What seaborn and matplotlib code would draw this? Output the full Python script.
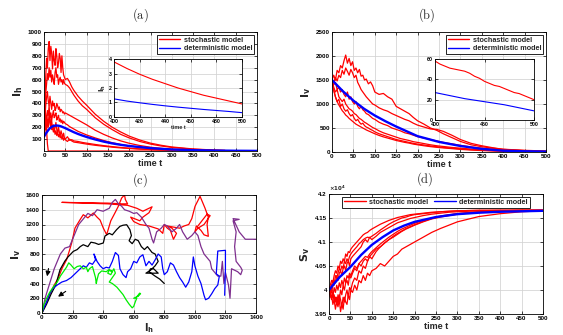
import matplotlib
matplotlib.use('Agg')
import matplotlib.pyplot as plt
import seaborn as sns
from matplotlib.ticker import FuncFormatter
from matplotlib.lines import Line2D

# ---------------- data: panel (a) I_h ----------------
T_A = [0,2,4,6,8,10,12,14,16,18,20,22,24,26,28,30,32,34,36,38,40,42,44,46,48,50,
       55,60,65,70,80,90,100,120,140,160,180,200,225,250,275,300,350,400,425]
A1 = [120,380,620,780,700,860,920,760,880,820,690,840,760,720,860,800,700,740,820,780,660,800,700,640,620,600,
      610,580,540,510,460,420,385,310,250,200,160,125,92,66,48,34,17,8,5]
A2 = [120,300,480,560,650,600,700,620,680,580,640,600,560,660,700,620,640,560,600,620,580,600,560,600,570,560,
      550,530,500,470,420,380,350,280,225,180,140,110,80,58,42,30,15,7,4]
A3 = [120,260,380,450,500,420,380,460,400,350,420,380,400,340,360,400,380,350,370,330,350,340,320,330,310,320,
      310,300,290,280,260,240,220,175,140,110,85,65,46,32,22,15,7,3,2]
A4 = [120,200,300,260,340,300,380,280,320,260,300,340,280,300,320,260,280,300,250,270,240,260,230,250,240,230,
      220,205,195,185,165,150,135,110,88,70,55,43,31,22,15,10,5,2,1]
A5 = [120,240,180,300,260,220,320,240,200,260,180,220,160,200,240,180,150,200,160,130,170,140,120,150,110,100,
      120,90,95,85,80,72,66,55,45,37,30,24,18,13,9,7,3,1,1]
A6 = [120,160,220,180,260,200,240,280,220,180,200,160,190,140,170,130,160,120,140,110,130,100,120,90,110,95,
      80,100,85,75,70,64,58,48,40,32,26,21,16,12,8,6,3,1,1]
T_A7 = [0,2,4,6,8,10,12,425]
A7 = [120,250,320,180,60,0,0,0]
T_AD = [0,5,10,15,20,25,30,35,40,50,60,70,80,90,100,120,140,160,180,200,250,300,350,400,450,500]
AD = [120,150,175,195,207,213,214,212,207,192,175,158,143,130,118,97,79,64,52,42,24,13,7,4,2,1]
T_AI = [400,410,420,430,440,450,460,470,480,490,500]
AI_STO = [3.8,3.35,2.95,2.6,2.3,2.0,1.75,1.5,1.3,1.1,0.9]
AI_DET = [1.25,1.1,0.98,0.87,0.77,0.68,0.6,0.52,0.45,0.38,0.3]

# ---------------- data: panel (b) I_v ----------------
T_B = [0,4,8,12,16,20,24,28,32,36,40,44,48,52,56,60,64,68,72,76,80,85,90,95,100,
       110,120,130,140,150,160,170,180,190,200,215,230,245,260,280,300,325,350,375,400,450,500]
B1 = [1500,1600,1500,1700,1650,1800,1750,1900,2020,1850,1950,1800,1880,1700,1750,1650,1720,1580,1600,1500,1520,1420,1460,1380,
      1250,1200,1220,1150,1100,950,900,850,800,720,650,580,500,450,380,300,220,150,110,80,58,35,20]
B2 = [1500,1450,1550,1480,1600,1550,1700,1620,1750,1680,1600,1720,1650,1550,1600,1450,1380,1300,1250,1200,1150,1100,1050,1000,
      980,920,880,850,800,760,720,680,650,600,560,520,480,470,430,350,260,180,130,90,55,30,15]
B3 = [1500,1400,1450,1300,1350,1250,1300,1200,1150,1250,1100,1150,1050,1000,1050,950,900,950,880,850,800,780,740,700,
      680,620,580,550,500,470,440,400,380,350,320,290,260,230,200,170,140,105,80,60,45,25,12]
B4 = [1500,1350,1250,1300,1150,1100,1050,1100,1000,950,900,880,850,800,780,740,700,680,650,620,600,570,540,510,
      490,440,400,370,340,310,280,260,240,215,200,175,150,130,115,95,80,60,45,33,24,13,7]
B5 = [1500,1300,1150,1050,1100,950,1000,900,850,880,800,750,780,700,650,680,620,580,600,550,520,500,470,450,
      420,380,350,320,290,260,240,220,200,180,165,145,125,110,95,80,65,50,38,28,20,11,6]
B6 = [1500,1280,1150,1050,980,920,860,820,770,740,700,670,640,610,580,560,540,520,500,480,460,440,420,400,
      380,345,315,290,265,240,220,200,185,165,150,130,112,97,85,70,55,40,30,22,16,9,5]
T_BD = [0,25,50,75,100,125,150,175,200,250,300,350,400,450,500]
BD = [1500,1270,1070,900,760,640,530,430,330,210,125,65,27,15,9]
T_BI = [400,405,410,415,420,425,430,435,440,445,450,455,460,465,470,475,480,485,490,495,500]
BI_STO = [58,55,53,51,50,49,48,46,43,41,38,36,34,33,31,29,27,26,24,22,20]
T_BID = [400,410,420,430,440,450,460,470,480,490,500]
BI_DET = [27,25,23,21,19.5,18,16.5,15,13,11,9]

# ---------------- data: panel (c) I_h vs I_v ----------------
RED_H = [0,20,50,80,107,130,161,180,194,216,249,270,300,336,360,380,401,423,450,477,499,521,540,545,560,520,430,130,430,560,
         620,660,720,700,660,640,580,600,640,700,760,790,800,820,840,860,880,850,820,900,930,960,980,1001,1034,1066,1088,
         1080,1088,1060,1040,1010,1000,1020,1060,1100,1080,1050,1020]
RED_V = [0,100,250,380,474,600,723,850,949,1152,1265,1333,1290,1356,1300,1260,1152,1062,1250,1356,1446,1559,1600,1540,1480,1480,
         1490,1500,1480,1460,1420,1380,1440,1360,1300,1250,1300,1240,1200,1180,1140,1080,1200,1150,1120,1000,1080,1150,1180,
         1150,1180,1200,1280,1446,1582,1424,1300,1200,1040,1060,1120,1180,1100,1150,1200,1320,1340,1260,1180]
PURPLE_H = [0,20,50,80,100,120,150,180,200,220,240,260,280,300,330,360,400,440,460,480,500,520,540,570,600,620,650,680,700,720,
            730,750,780,800,820,850,880,900,920,950,980,1000,1020,1040,1060,1080,1100,1110,1130,1150,1170,1180,1190,1200,1220,
            1230,1240,1280,1300,1310,1300,1270,1260,1270,1250,1290,1250,1290,1330,1400]
PURPLE_V = [0,200,400,600,700,800,880,900,1000,1100,1200,1250,1300,1350,1320,1400,1380,1420,1500,1540,1480,1450,1400,1380,1350,
            1360,1300,1200,1150,1000,950,1100,1150,1200,1180,1100,1150,1200,1100,1000,1050,1100,1050,900,800,750,700,600,550,500,
            500,700,400,550,380,200,600,560,520,580,620,700,900,1100,1250,1270,1280,1100,1000,1000]
BLACK_H = [0,30,60,90,118,135,150,170,205,230,250,270,300,320,347,370,401,412,440,460,488,510,530,554,575,585,570,590,610,630,
           650,670,690,720,740,760,740,710,680,720,760,730,710,700,740,770,800]
BLACK_V = [0,120,260,380,587,650,705,760,836,860,900,926,900,960,949,930,949,1044,1080,1060,1130,1175,1190,1197,1130,1050,980,
           940,1000,980,900,860,900,820,800,700,640,580,540,540,540,600,600,560,500,460,400]
BLUE_H = [0,10,30,50,70,100,130,160,190,210,230,250,270,290,310,330,350,340,360,380,400,420,440,460,480,500,510,530,550,560,
          580,600,620,640,660,680,700,720,740,760,780,790,800,820,840,860,880,900,920,940,960,980,990,1000,1020,1040,1060,1070,
          1090,1110,1130,1150,1160,1140,1150,1200,1200,1195]
BLUE_V = [0,60,150,260,330,380,420,440,480,520,560,600,640,620,680,660,720,800,700,640,600,620,610,700,820,780,600,520,480,560,
          600,700,680,760,790,640,700,650,720,800,760,600,520,560,680,650,560,480,420,350,420,560,760,640,500,400,240,180,
          200,260,330,380,500,530,840,850,600,240]
GREEN_H = [0,10,30,50,80,100,120,140,160,175,190,210,230,250,270,290,300,310,330,350,355,360,370,390,420,440,460,450,430,440,
           460,470,480,450,440,460,490,510,530,550,570,590,600,610,620,600,630,640,620,645]
GREEN_V = [0,100,200,280,370,420,500,560,620,680,650,600,630,640,600,620,560,600,630,480,400,450,530,570,560,590,560,520,540,580,
           560,600,540,450,420,400,350,300,250,180,120,70,90,150,200,200,230,270,220,260]

# ---------------- data: panel (d) S_v (x 10^4) ----------------
T_D = [0,3,6,9,12,15,18,21,24,27,30,33,36,39,42,45,48,51,55,60,65,70,75,80,85,90,95,100,
       110,120,130,140,150,160,170,180,190,200,220,240,260,280,300,350,400,450,500]
D1 = [4.000,4.010,4.020,4.015,4.030,4.040,4.035,4.050,4.045,4.060,4.055,4.065,4.060,4.075,4.070,4.080,4.078,4.085,
      4.090,4.095,4.100,4.105,4.110,4.115,4.118,4.120,4.124,4.127,4.132,4.137,4.141,4.145,4.148,4.151,4.153,4.155,4.157,4.158,
      4.160,4.162,4.163,4.164,4.165,4.166,4.166,4.166,4.166]
D2 = [4.000,3.995,4.010,4.020,4.010,4.030,4.025,4.035,4.045,4.040,4.050,4.045,4.060,4.055,4.065,4.060,4.070,4.075,
      4.080,4.085,4.090,4.096,4.100,4.105,4.108,4.110,4.109,4.112,4.118,4.125,4.131,4.137,4.142,4.146,4.150,4.152,4.155,4.157,
      4.159,4.161,4.163,4.164,4.165,4.166,4.166,4.166,4.166]
D3 = [4.000,4.005,3.995,4.010,4.020,4.015,4.030,4.020,4.035,4.040,4.030,4.045,4.050,4.040,4.055,4.060,4.050,4.065,
      4.070,4.075,4.080,4.085,4.090,4.100,4.105,4.100,4.110,4.105,4.112,4.120,4.125,4.130,4.135,4.140,4.143,4.146,4.149,4.151,
      4.155,4.158,4.160,4.162,4.163,4.165,4.166,4.166,4.166]
D4 = [4.000,3.990,4.000,3.985,4.005,3.995,4.010,4.000,4.015,4.005,4.020,4.010,4.025,4.015,4.030,4.025,4.035,4.030,
      4.040,4.050,4.045,4.055,4.060,4.065,4.070,4.068,4.075,4.080,4.088,4.096,4.103,4.110,4.116,4.122,4.127,4.131,4.135,4.139,
      4.145,4.150,4.154,4.157,4.159,4.163,4.165,4.166,4.166]
D5 = [4.000,3.990,3.980,3.995,3.975,3.985,3.970,3.990,3.980,4.000,3.990,4.010,4.000,4.015,4.020,4.010,4.030,4.025,
      4.035,4.045,4.040,4.055,4.050,4.060,4.065,4.060,4.070,4.075,4.085,4.090,4.098,4.105,4.110,4.116,4.122,4.127,4.131,4.135,
      4.142,4.148,4.152,4.155,4.158,4.162,4.164,4.165,4.166]
D6 = [4.000,3.985,3.990,3.970,3.980,3.960,3.975,3.965,3.980,3.955,3.970,3.960,3.985,3.975,3.970,3.990,3.980,4.000,
      3.995,4.010,4.000,4.020,4.015,4.030,4.020,4.035,4.030,4.040,4.045,4.055,4.050,4.060,4.070,4.075,4.085,4.090,4.095,4.100,
      4.110,4.120,4.128,4.135,4.142,4.153,4.159,4.163,4.165]
D7 = [4.000,3.995,4.005,3.985,3.990,3.975,3.985,3.970,3.990,3.980,3.965,3.985,3.975,3.990,4.000,3.985,4.005,4.000,
      4.015,4.025,4.020,4.040,4.035,4.050,4.045,4.060,4.070,4.065,4.080,4.090,4.098,4.105,4.112,4.118,4.123,4.128,4.132,4.136,
      4.143,4.149,4.153,4.156,4.159,4.163,4.165,4.166,4.166]
T_DD = [0,10,25,50,75,100,125,150,175,200,250,300,350,400,450,500]
DD = [4.000,4.011,4.027,4.048,4.073,4.094,4.110,4.124,4.134,4.142,4.152,4.158,4.161,4.163,4.164,4.165]

LEG = ['stochastic model', 'deterministic model']

# ---------------- styling ----------------
sns.set_theme(style='whitegrid')
plt.rcParams['font.family'] = ['Liberation Sans', 'DejaVu Sans']
plt.rcParams['font.weight'] = 'bold'
plt.rcParams['axes.labelweight'] = 'bold'

RED = '#ff0000'
BLUE = '#0000ff'
LW_R = 0.9
LW_B = 1.7

fig = plt.figure(figsize=(5.63, 3.35), dpi=100)
W, H = 563.0, 335.0


def add_ax(x0, y0, x1, y1):
    return fig.add_axes([x0 / W, 1 - y1 / H, (x1 - x0) / W, (y1 - y0) / H])


def style(ax, fs=4.5):
    ax.set_facecolor('white')
    ax.set_axisbelow(True)
    for s in ax.spines.values():
        s.set_visible(True)
        s.set_color('black')
        s.set_linewidth(0.6)
    ax.tick_params(direction='in', length=2, width=0.5, labelsize=fs, pad=1.5,
                   colors='black', top=True, right=True, bottom=True, left=True)
    ax.grid(True, color='#d2d2d2', linewidth=0.55)


def line(ax, x, y, color, lw, label=None):
    sns.lineplot(x=x, y=y, ax=ax, color=color, linewidth=lw, sort=False,
                 estimator=None, label=label, legend=False)


def legend(ax, **kw):
    handles = [Line2D([], [], color=RED, lw=1.0), Line2D([], [], color=BLUE, lw=1.0)]
    lg = ax.legend(handles, LEG, fontsize=5.2, frameon=True, fancybox=False,
                   edgecolor='black', framealpha=1, borderpad=0.25, labelspacing=0.2,
                   handlelength=3.0, handletextpad=0.5, borderaxespad=0.4, **kw)
    lg.get_frame().set_linewidth(0.6)


def title(x, y, s):
    fig.text(x / W, 1 - y / H, s, ha='center', va='center', fontsize=9,
             fontweight='normal', math_fontfamily='cm')

# ---------------- panel (a) ----------------
axa = add_ax(44, 32, 257, 151)
for ys in [A1, A2, A3, A4, A5, A6]:
    line(axa, T_A, ys, RED, LW_R)
line(axa, T_A7, A7, RED, LW_R)
line(axa, T_AD, AD, BLUE, LW_B)
axa.set_xlim(0, 500)
axa.set_ylim(0, 1000)
axa.set_xticks(range(0, 501, 50))
axa.set_yticks(range(100, 1001, 100))
style(axa)
axa.set_xlabel('time t', fontsize=6.5, labelpad=1)
axa.set_ylabel(r'$\mathbf{I_h}$', fontsize=8, labelpad=2)
legend(axa, loc='upper right')
title(140, 15, r'$\mathrm{(a)}$')

axai = add_ax(114, 59, 242, 117)
line(axai, T_AI, AI_STO, RED, 0.8)
line(axai, T_AI, AI_DET, BLUE, 0.8)
axai.set_xlim(400, 500)
axai.set_ylim(0, 4)
axai.set_xticks(range(400, 501, 20))
axai.set_yticks(range(0, 5))
style(axai, fs=3.8)
axai.set_xlabel('time t', fontsize=4, labelpad=0.5)
axai.set_ylabel(r'$\mathbf{I_h}$', fontsize=5, labelpad=1)

# ---------------- panel (b) ----------------
axb = add_ax(332, 32, 546, 152)
for ys in [B1, B2, B3, B4, B5, B6]:
    line(axb, T_B, ys, RED, LW_R)
line(axb, T_BD, BD, BLUE, LW_B)
axb.set_xlim(0, 500)
axb.set_ylim(0, 2500)
axb.set_xticks(range(0, 501, 50))
axb.set_yticks(range(0, 2501, 500))
style(axb)
axb.set_xlabel('time t', fontsize=6.5, labelpad=1)
axb.set_ylabel(r'$\mathbf{I_v}$', fontsize=8, labelpad=2)
legend(axb, loc='upper right')
title(427, 15, r'$\mathrm{(b)}$')

axbi = add_ax(435, 59, 534, 120)
line(axbi, T_BI, BI_STO, RED, 0.8)
line(axbi, T_BID, BI_DET, BLUE, 0.8)
axbi.set_xlim(400, 500)
axbi.set_ylim(0, 60)
axbi.set_xticks([400, 450, 500])
axbi.set_yticks([0, 20, 40, 60])
style(axbi, fs=3.8)

# ---------------- panel (c) ----------------
axc = add_ax(42, 195, 256, 313)
line(axc, RED_H, RED_V, RED, LW_R)
line(axc, PURPLE_H, PURPLE_V, '#7e2f8e', LW_R)
line(axc, BLACK_H, BLACK_V, 'black', LW_R)
line(axc, BLUE_H, BLUE_V, BLUE, LW_R)
line(axc, GREEN_H, GREEN_V, '#00ee00', LW_R)
axc.annotate('', xy=(30, 460), xytext=(46, 640),
             arrowprops=dict(arrowstyle='-|>', color='black', lw=0.8, mutation_scale=7))
axc.annotate('', xy=(90, 200), xytext=(170, 315),
             arrowprops=dict(arrowstyle='-|>', color='black', lw=0.8, mutation_scale=7))
axc.set_xlim(0, 1400)
axc.set_ylim(0, 1600)
axc.set_xticks(range(0, 1401, 200))
axc.set_yticks(range(0, 1601, 200))
style(axc)
axc.set_xlabel(r'$\mathbf{I_h}$', fontsize=7, labelpad=1)
axc.set_ylabel(r'$\mathbf{I_v}$', fontsize=8, labelpad=2)
title(140, 180, r'$\mathrm{(c)}$')

# ---------------- panel (d) ----------------
axd = add_ax(329, 194, 543, 314)
for ys in [D1, D2, D3, D4, D5, D6, D7]:
    line(axd, T_D, ys, RED, LW_R)
line(axd, T_DD, DD, BLUE, LW_B)
axd.set_xlim(0, 500)
axd.set_ylim(3.95, 4.2)
axd.set_xticks(range(0, 501, 50))
axd.set_yticks([3.95, 4.0, 4.05, 4.1, 4.15, 4.2])
axd.yaxis.set_major_formatter(FuncFormatter(lambda v, p: f'{v:g}'))
style(axd)
axd.text(0.0, 1.005, r'$\times10^4$', transform=axd.transAxes, fontsize=4,
         ha='left', va='bottom')
axd.set_xlabel('time t', fontsize=6.5, labelpad=1)
axd.set_ylabel(r'$\mathbf{S_v}$', fontsize=8, labelpad=2)
legend(axd, loc='upper center', ncol=2, columnspacing=0.8)
title(425, 179, r'$\mathrm{(d)}$')

fig.savefig('out.png', dpi=100)
